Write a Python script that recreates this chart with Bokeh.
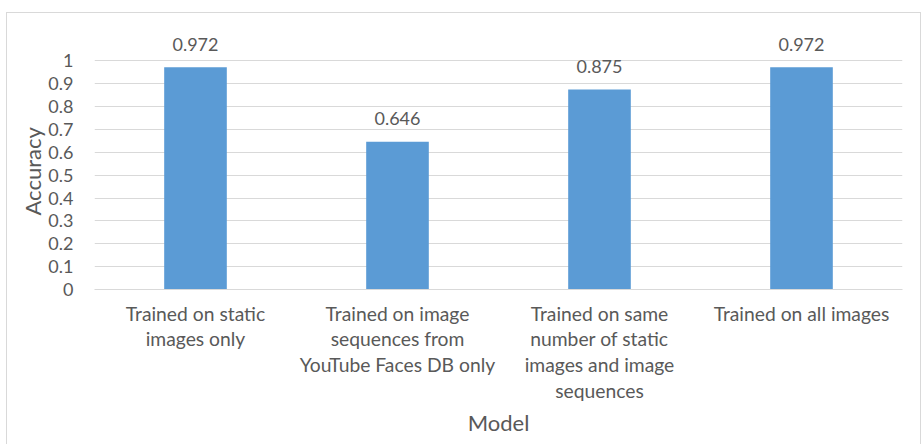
from bokeh.plotting import figure
from bokeh.models import (ColumnDataSource, FactorRange, Range1d, FixedTicker,
                          LabelSet, Title)
from bokeh.core.properties import value
from bokeh.embed import file_html
from bokeh.resources import INLINE

categories = [
    "Trained on static\nimages only",
    "Trained on image\nsequences from\nYouTube Faces DB only",
    "Trained on same\nnumber of static\nimages and image\nsequences",
    "Trained on all images",
]
accuracy = [0.972, 0.646, 0.875, 0.972]
value_labels = ["0.972", "0.646", "0.875", "0.972"]
y_ticks = [0, 0.1, 0.2, 0.3, 0.4, 0.5, 0.6, 0.7, 0.8, 0.9, 1]
y_tick_labels = ["0", "0.1", "0.2", "0.3", "0.4", "0.5", "0.6", "0.7", "0.8", "0.9", "1"]

FONT = "Lato"
GRAY = "#595959"
GRID = "#D9D9D9"
BAR = "#5B9BD5"

src = ColumnDataSource(dict(cat=categories, acc=accuracy, lab=value_labels))

p = figure(width=915, height=432, output_backend="svg", toolbar_location=None,
           x_range=FactorRange(factors=categories, range_padding=0),
           y_range=Range1d(0, 1.12),
           min_border_left=87, min_border_right=20, min_border_top=20,
           min_border_bottom=156)
p.margin = (12, 0, 0, 6)
p.styles = {"border": "1px solid #D9D9D9", "border-bottom": "none"}
p.outline_line_color = None
p.background_fill_color = "white"
p.border_fill_color = "white"

p.vbar(x="cat", top="acc", width=0.31, source=src, color=BAR, line_color=None)

labels = LabelSet(x="cat", y="acc", text="lab", source=src, text_align="center",
                  text_baseline="middle", y_offset=23, text_color=GRAY,
                  text_font=value(FONT), text_font_size="18px")
p.add_layout(labels)

# grid
p.xgrid.grid_line_color = None
p.ygrid.grid_line_color = GRID
p.ygrid.grid_line_width = 1
p.yaxis.ticker = FixedTicker(ticks=y_ticks)
p.yaxis.major_label_overrides = {t: l for t, l in zip(y_ticks, y_tick_labels)}

# y axis
p.yaxis.axis_line_color = None
p.yaxis.major_tick_line_color = None
p.yaxis.minor_tick_line_color = None
p.yaxis.major_tick_out = 0
p.yaxis.major_tick_in = 0
p.yaxis.major_label_standoff = 21
p.yaxis.major_label_text_font = FONT
p.yaxis.major_label_text_font_size = "18px"
p.yaxis.major_label_text_color = GRAY

# y axis title (side title so it sits centred on the 0..1 span)
ytitle = Title(text="Accuracy", align="left", offset=74, standoff=0,
               text_font=FONT, text_font_size="22px", text_font_style="normal",
               text_color=GRAY)
p.add_layout(ytitle, "left")

# x axis
p.xaxis.axis_line_color = GRID
p.xaxis.major_tick_line_color = None
p.xaxis.minor_tick_line_color = None
p.xaxis.major_label_standoff = 6
p.xaxis.major_label_text_font = FONT
p.xaxis.major_label_text_font_size = "19.3px"
p.xaxis.major_label_text_color = GRAY
p.xaxis.major_label_text_line_height = 1.13
p.xaxis.major_label_orientation = "horizontal"
p.xaxis.axis_label = "Model"
p.xaxis.axis_label_text_font = FONT
p.xaxis.axis_label_text_font_size = "22px"
p.xaxis.axis_label_text_font_style = "normal"
p.xaxis.axis_label_text_color = GRAY
p.xaxis.axis_label_standoff = 4

open("out.html", "w").write(file_html(p, INLINE))
